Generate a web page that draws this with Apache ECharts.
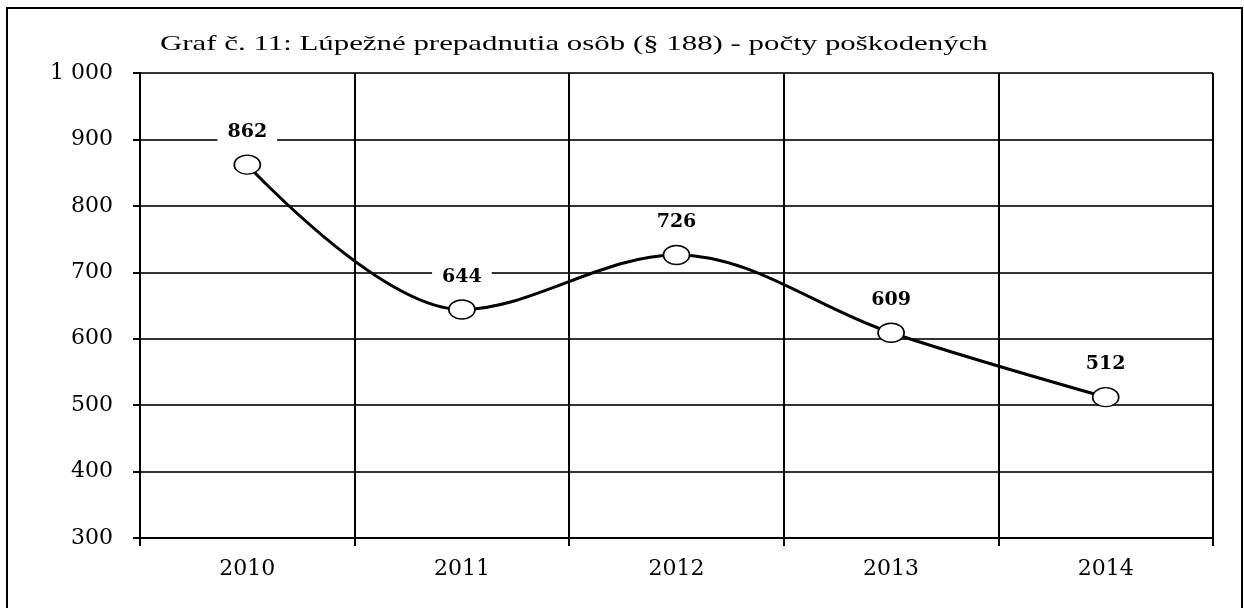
<!DOCTYPE html>
<html>
<head>
<meta charset="utf-8">
<script src="https://cdn.jsdelivr.net/npm/echarts@6/dist/echarts.min.js"></script>
<style>
html,body{margin:0;padding:0;background:#fff;}
#c{width:1244px;height:608px;}
</style>
</head>
<body>
<div id="c"></div>
<script>
const titleText = 'Graf č. 11: Lúpežné prepadnutia osôb (§ 188) - počty poškodených';
const categories = ['2010','2011','2012','2013','2014'];
const values = [862, 644, 726, 609, 512];
const yMin = 300, yMax = 1000, yStep = 100;

const chart = echarts.init(document.getElementById('c'));
const font = '"DejaVu Serif", "Liberation Serif", serif';
chart.setOption({
  animation:false,
  backgroundColor:'#fff',
  graphic:[{
    type:'rect', shape:{x:7,y:8,width:1235,height:640},
    style:{fill:'none',stroke:'#000',lineWidth:2}, silent:true, z:-1
  },{
    type:'text', left:160, top:34, silent:true,
    style:{text:titleText, fontFamily:'"Liberation Serif", serif', fontSize:21, fill:'#000'},
    scaleX:1.47, originX:0
  }],
  grid:{left:140,right:31,top:73,bottom:70,containLabel:false},
  xAxis:{
    type:'category', data:categories, boundaryGap:true,
    axisLine:{lineStyle:{color:'#000',width:2}},
    axisTick:{show:true,length:8,alignWithLabel:false,lineStyle:{color:'#000',width:2}},
    axisLabel:{fontFamily:font,fontSize:22,color:'#000',margin:20},
    splitLine:{show:true,lineStyle:{color:'#000',width:2}}
  },
  yAxis:{
    type:'value', min:yMin, max:yMax, interval:yStep,
    axisLine:{show:true,lineStyle:{color:'#000',width:2}},
    axisTick:{show:true,length:7,lineStyle:{color:'#000',width:2}},
    axisLabel:{fontFamily:font,fontSize:22,color:'#000',margin:27,
      formatter:v=> v>=1000 ? String(v).replace(/\B(?=(\d{3})+(?!\d))/g,' ') : String(v)},
    splitLine:{show:true,lineStyle:{color:'#333',width:2}}
  },
  series:[{
    type:'line', data:values, smooth:0.35,
    lineStyle:{color:'#000',width:3},
    symbol:'circle', symbolSize:[26,19],
    itemStyle:{color:'#fff',borderColor:'#000',borderWidth:1.5},
    label:{show:true,position:'top',distance:10,
      fontFamily:font,fontWeight:'bold',fontSize:19,color:'#000',
      backgroundColor:'#fff',padding:[3,10,3,10]},
    z:5
  }]
});
</script>
</body>
</html>
